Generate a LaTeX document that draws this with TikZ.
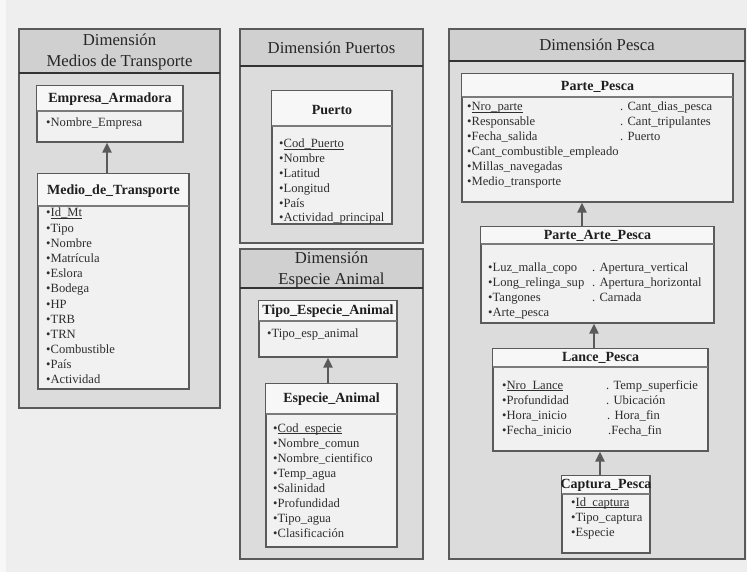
\documentclass[tikz,border=0pt]{standalone}
\usepackage{fontspec}
\setmainfont{Liberation Serif}
\usetikzlibrary{arrows.meta}

\definecolor{paper}{HTML}{EEEEEE}
\definecolor{paperedge}{HTML}{F7F7F7}
\definecolor{panelbody}{HTML}{DCDCDC}
\definecolor{panelhead}{HTML}{D0D0D0}
\definecolor{boxfill}{HTML}{F1F1F1}
\definecolor{boxhead}{HTML}{F7F7F7}
\definecolor{edge}{HTML}{5A5A5A}
\definecolor{darkedge}{HTML}{333333}

% key attribute: underline drawn just under the baseline
\newcommand\keyattr[1]{\setbox0\hbox{#1}\rlap{\rule[-1.4pt]{\wd0}{0.55pt}}\box0}

\tikzset{
  panelbox/.style={draw=edge, line width=1.3pt, fill=panelbody, inner sep=0pt},
  headsep/.style={draw=darkedge, line width=1.5pt},
  entbox/.style={draw=edge, line width=1.2pt, fill=boxfill, inner sep=0pt},
  entsep/.style={draw=edge!80, line width=1.3pt},
  headtext/.style={font=\fontsize{16.7}{21}\selectfont, align=center, inner sep=0pt, text=black!85},
  titletext/.style={font=\fontsize{14}{16}\selectfont\bfseries, inner sep=0pt, text=black!88},
  item/.style={font=\fontsize{12.6}{14}\selectfont, anchor=west, inner sep=0pt,
               text height=9pt, text depth=3pt, text=black!82},
  inh/.style={draw=edge, line width=2.6pt, -{Triangle[width=9pt,length=10pt]}},
}

% dimension panel: name, left, top, right, bottom, header bottom
\newcommand\dimpanel[6]{%
  \node[panelbox, minimum width={#4-#2}, minimum height={#5-#3}]
    (#1) at ({(#2+#4)/2},{(#3+#5)/2}) {};
  \fill[panelhead] (#2,#3) rectangle (#4,#6);
  \draw[edge, line width=1.3pt] (#2,#3) rectangle (#4,#5);
  \draw[headsep] (#2,#6) -- (#4,#6);
}

% entity box: name, left, top, right, bottom, separator y
\newcommand\entbox[6]{%
  \node[entbox, minimum width={#4-#2}, minimum height={#5-#3}]
    (#1) at ({(#2+#4)/2},{(#3+#5)/2}) {};
  \fill[boxhead] ([shift={(0.6pt,-0.6pt)}]#1.north west) rectangle (#4-0.6,#6);
  \draw[entsep] (#2,#6) -- (#4,#6);
}

\begin{document}
\begin{tikzpicture}[x=1pt, y=-1pt]
  % page
  \fill[paper] (0,0) rectangle (747,572);
  \fill[paperedge] (0,0) rectangle (6,572);
  \useasboundingbox (0,0) rectangle (747,572);

  % ---------- Dimension: Medios de Transporte ----------
  \dimpanel{pmt}{19}{29}{220}{408}{73}
  \node[headtext] (hmt) at (119.5,51.5) {Dimensión\\Medios de Transporte};

  \entbox{emp}{37}{86}{183}{142}{111}
  \node[titletext] (temp) at (110,99) {Empresa\_Armadora};
  \node[item] (iemp) at (46,124) {•Nombre\_Empresa};

  \entbox{mt}{38}{174}{189}{389}{206}
  \node[titletext] (tmt) at (113.5,191) {Medio\_de\_Transporte};
  \foreach [count=\i from 0] \t in {\keyattr{Id\_Mt}, Tipo, Nombre, Matrícula,
      Eslora, Bodega, HP, TRB, TRN, Combustible, País, Actividad}
    \node[item] (mt-\i) at (46,{214+15.18*\i}) {•\t};

  \draw[inh] (mt.north -| 107,0) -- (emp.south -| 107,0);

  % ---------- Dimension: Puertos ----------
  \dimpanel{ppu}{240}{29}{423}{243}{66}
  \node[headtext] (hpu) at (331.5,48) {Dimensión Puertos};

  \entbox{pto}{272}{91}{392}{224}{126}
  \node[titletext] (tpto) at (332,110) {Puerto};
  \foreach [count=\i from 0] \t in {\keyattr{Cod\_Puerto}, Nombre, Latitud,
      Longitud, País, Actividad\_principal}
    \node[item] (pto-\i) at (279,{145+14.8*\i}) {•\t};

  % ---------- Dimension: Especie Animal ----------
  \dimpanel{pea}{240}{249}{423}{559}{288}
  \node[headtext] (hea) at (331.5,269.5) {Dimensión\\Especie Animal};

  \entbox{tea}{259}{301}{397}{357}{321}
  \node[titletext] (ttea) at (328,311) {Tipo\_Especie\_Animal};
  \node[item] (itea) at (267,334) {•Tipo\_esp\_animal};

  \entbox{esp}{266}{384}{397}{547}{414}
  \node[titletext] (tesp) at (331.5,399) {Especie\_Animal};
  \foreach [count=\i from 0] \t in {\keyattr{Cod\_especie}, Nombre\_comun,
      Nombre\_cientifico, Temp\_agua, Salinidad, Profundidad, Tipo\_agua, Clasificación}
    \node[item] (esp-\i) at (273,{429+15*\i}) {•\t};

  \draw[inh] (esp.north -| 328,0) -- (tea.south -| 328,0);

  % ---------- Dimension: Pesca ----------
  \dimpanel{ppe}{449}{29}{745}{559}{61}
  \node[headtext] (hpe) at (597,45) {Dimensión Pesca};

  \entbox{pp}{462}{74}{733}{202}{97}
  \node[titletext] (tpp) at (597.5,86.5) {Parte\_Pesca};
  \foreach [count=\i from 0] \t in {\keyattr{Nro\_parte}, Responsable, Fecha\_salida,
      Cant\_combustible\_empleado, Millas\_navegadas, Medio\_transporte}
    \node[item] (ppl-\i) at (467,{108+15*\i}) {•\t};
  \foreach [count=\i from 0] \t in {Cant\_dias\_pesca, Cant\_tripulantes, Puerto}
    \node[item] (ppr-\i) at (620,{108+15*\i}) {. \t};

  \entbox{pap}{481}{227}{714}{323}{244}
  \node[titletext] (tpap) at (597.5,236) {Parte\_Arte\_Pesca};
  \foreach [count=\i from 0] \t in {Luz\_malla\_copo, Long\_relinga\_sup, Tangones, Arte\_pesca}
    \node[item] (papl-\i) at (488,{268+15*\i}) {•\t};
  \foreach [count=\i from 0] \t in {Apertura\_vertical, Apertura\_horizontal, Carnada}
    \node[item] (papr-\i) at (592,{268+15*\i}) {. \t};

  \entbox{lp}{493}{349}{708}{451}{367}
  \node[titletext] (tlp) at (600.5,358) {Lance\_Pesca};
  \foreach [count=\i from 0] \t in {\keyattr{Nro\_Lance}, Profundidad, Hora\_inicio, Fecha\_inicio}
    \node[item] (lpl-\i) at (502,{386+15*\i}) {•\t};
  \node[item] (lpr-0) at (606,386) {. Temp\_superficie};
  \node[item] (lpr-1) at (606,401) {. Ubicación};
  \node[item] (lpr-2) at (607,416) {. Hora\_fin};
  \node[item] (lpr-3) at (608,431) {.Fecha\_fin};

  \entbox{cp}{562}{476}{650}{553}{494}
  \node[titletext] (tcp) at (606,485) {Captura\_Pesca};
  \foreach [count=\i from 0] \t in {\keyattr{Id\_captura}, Tipo\_captura, Especie}
    \node[item] (cp-\i) at (571,{503+15*\i}) {•\t};

  \draw[inh] (pap.north -| 582,0) -- (pp.south -| 582,0);
  \draw[inh] (lp.north -| 594,0) -- (pap.south -| 594,0);
  \draw[inh] (cp.north -| 600,0) -- (lp.south -| 600,0);
\end{tikzpicture}
\end{document}
